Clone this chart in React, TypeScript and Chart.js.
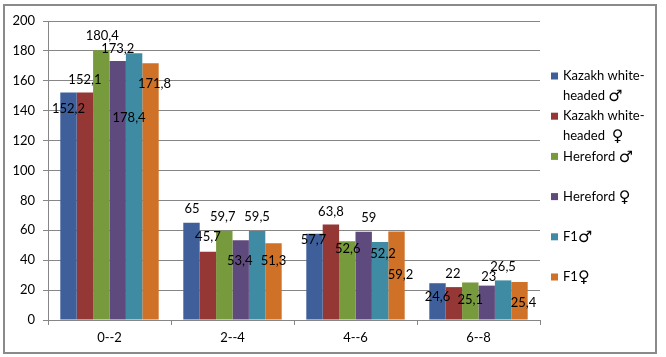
import React, { useEffect, useRef } from "react";
import { Chart, registerables } from "chart.js";

Chart.register(...registerables);

const categories = ["0--2", "2--4", "4--6", "6--8"];
const seriesNames = [
  "Kazakh white-\nheaded \u2642",
  "Kazakh white-\nheaded  \u2640",
  "Hereford \u2642",
  "Hereford \u2640",
  "F1\u2642",
  "F1\u2640",
];
const kazakhMale = [152.2, 65, 57.7, 24.6];
const kazakhFemale = [152.1, 45.7, 63.8, 22];
const herefordMale = [180.4, 59.7, 52.6, 25.1];
const herefordFemale = [173.2, 53.4, 59, 23];
const f1Male = [178.4, 59.5, 52.2, 26.5];
const f1Female = [171.8, 51.3, 59.2, 25.4];
const seriesColors = ["#3E5F9A", "#953735", "#779A3C", "#5F4A7E", "#3E8BA3", "#D07128"];
const yMin = 0;
const yMax = 200;
const yStep = 20;

// label placement offsets (px) relative to each bar's top centre, as in the reference
const labelDx = [
  [0, 0.5, -1, 0],
  [0, 0, 0, -1],
  [1, -1.5, 0.5, 0],
  [0, -1, 5, 2],
  [-5, 0, 3, 0],
  [4, 0, 4, 4],
];
const labelDy = [
  [16, -14.5, 6.5, 14],
  [-13, -15, -12.6, -13],
  [-14, -14, 7, 17],
  [-12, 21, -14, -9],
  [65, -14, 12, -14],
  [21, 18, 43, 21],
];

const FONT = "Lato, 'Liberation Sans', sans-serif";
const SYMBOL_FONT = "bold 16px 'DejaVu Sans', sans-serif";
const SYMBOLS = ["\u2642", "\u2640"];

const labelsPlugin = {
  id: "barLabels",
  afterDatasetsDraw(chart: any) {
    const ctx = chart.ctx;
    ctx.save();
    ctx.font = `13px ${FONT}`;
    ctx.fillStyle = "#000";
    ctx.textAlign = "center";
    ctx.textBaseline = "middle";
    chart.data.datasets.forEach((ds: any, i: number) => {
      const meta = chart.getDatasetMeta(i);
      meta.data.forEach((bar: any, j: number) => {
        const txt = String(ds.data[j]).replace(".", ",");
        ctx.fillText(txt, bar.x + labelDx[i][j], bar.y + labelDy[i][j]);
      });
    });
    ctx.restore();
  },
  afterDraw(chart: any) {
    const ctx = chart.ctx;
    ctx.save();
    // legend
    const lx = chart.chartArea.right + 11;
    const startY = 76;
    const itemGap = 40.2;
    const lineH = 19.5;
    ctx.textBaseline = "middle";
    ctx.textAlign = "left";
    chart.data.datasets.forEach((ds: any, i: number) => {
      const y = startY + i * itemGap;
      ctx.fillStyle = ds.backgroundColor;
      ctx.fillRect(lx, y - 3.5, 7, 7);
      ctx.fillStyle = "#000";
      const lines = String(ds.label).split("\n");
      lines.forEach((ln: string, k: number) => {
        let x = lx + 12;
        const ly = y + k * lineH;
        for (const ch of ln) {
          if (SYMBOLS.includes(ch)) {
            ctx.font = SYMBOL_FONT;
            ctx.fillText(ch, x, ly + 1);
          } else {
            ctx.font = `13px ${FONT}`;
            ctx.fillText(ch, x, ly);
          }
          x += ctx.measureText(ch).width;
        }
      });
    });
    // outer border
    ctx.strokeStyle = "#8a8a8a";
    ctx.lineWidth = 2;
    ctx.strokeRect(4, 5, 652, 348);
    ctx.restore();
  },
};

const seriesData = [kazakhMale, kazakhFemale, herefordMale, herefordFemale, f1Male, f1Female];

export default function App() {
  const ref = useRef<HTMLCanvasElement | null>(null);
  useEffect(() => {
    if (!ref.current) return;
    const chart = new Chart(ref.current, {
      type: "bar",
      data: {
        labels: categories,
        datasets: seriesData.map((d, i) => ({
          label: seriesNames[i],
          data: d,
          backgroundColor: seriesColors[i],
          borderWidth: 0,
          categoryPercentage: 0.8,
          barPercentage: 1.0,
        })),
      },
      options: {
        animation: false,
        responsive: false,
        maintainAspectRatio: false,
        layout: { padding: { top: 21, right: 126, left: 0, bottom: 0 } },
        plugins: {
          legend: { display: false },
          tooltip: { enabled: false },
        },
        scales: {
          x: {
            grid: {
              drawOnChartArea: false,
              drawTicks: true,
              tickLength: 5,
              color: "#868686",
              offset: true,
            },
            border: { color: "#868686", width: 1 },
            ticks: { color: "#000", font: { family: FONT, size: 13 }, padding: 5 },
            afterFit: (s: any) => {
              s.height = 37;
            },
          },
          y: {
            min: yMin,
            max: yMax,
            ticks: { stepSize: yStep, color: "#000", font: { family: FONT, size: 13 }, padding: 8 },
            grid: { color: "#868686", tickLength: 5, lineWidth: 1 },
            border: { color: "#868686", width: 1 },
            afterFit: (s: any) => {
              s.width = 48;
            },
          },
        },
      },
      plugins: [labelsPlugin],
    });
    return () => chart.destroy();
  }, []);
  return (
    <div style={{ position: "fixed", left: 0, top: 0, width: 666, height: 357, background: "#fff" }}>
      <canvas ref={ref} width={666} height={357} style={{ display: "block" }} />
    </div>
  );
}
